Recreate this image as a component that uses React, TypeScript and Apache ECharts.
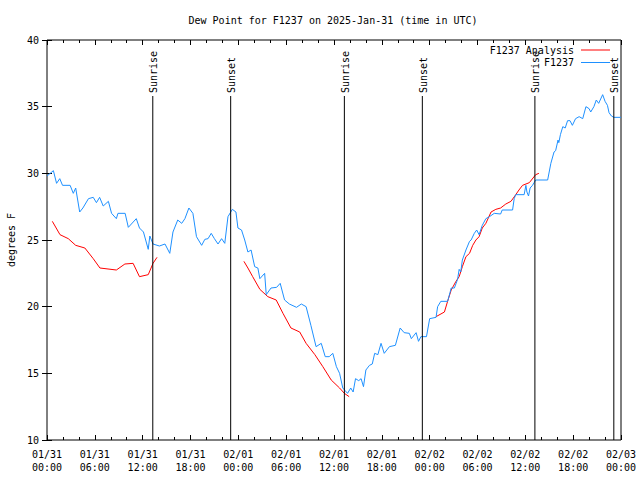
import React, { useEffect, useRef } from "react";
import * as echarts from "echarts";

// hours since 2025-01-31 00:00 UTC
const obsHours = [
  0, 0.8, 1.2, 1.6, 1.95, 2.9, 3.3, 3.6, 4.1, 4.5, 5.2, 5.8, 6.2, 6.6, 7.05, 7.7, 8.1, 8.7, 8.9, 9.8,
  10.2, 11.2, 11.6, 12.1, 12.7, 12.9, 13.3, 14.1, 14.8, 15.4, 15.8, 16.4, 16.9, 17.3, 17.8, 18.3, 18.75,
  19.4, 19.8, 20.2, 20.6, 21.0, 21.45, 21.9, 22.3, 22.7, 23.25, 23.7, 23.95, 24.4, 24.8, 25.2, 25.6,
  26.05, 26.45, 26.7, 27.3, 27.5, 28.1, 28.8, 29.25, 29.8, 30.4, 31.3, 31.9, 32.5, 33.1, 33.75, 34.4,
  34.9, 35.4, 35.85, 36.3, 36.7, 37.1, 37.4, 37.7, 38.1, 38.4, 38.7, 39.1, 39.4, 39.7, 40.0, 40.45,
  40.8, 41.1, 41.5, 41.9, 42.3, 42.95, 43.7, 44.3, 44.8, 45.45, 45.7, 46.3, 46.6, 46.9, 47.6, 48.0,
  48.8, 49.0, 49.4, 50.25, 50.55, 50.7, 51.1, 51.5, 51.7, 51.9, 52.1, 52.55, 53.0, 53.2, 53.6, 53.9,
  54.2, 54.6, 55.05, 55.5, 56.1, 56.9, 57.1, 58.4, 58.6, 58.8, 59.85, 60.07, 60.2, 60.4, 60.6, 60.9,
  61.1, 61.3, 62.8, 63.2, 63.6, 63.8, 64.1, 64.2, 64.4, 64.7, 65.0, 65.3, 65.6, 65.9, 66.3, 66.75,
  67.2, 67.6, 68.0, 68.2, 68.6, 68.9, 69.2, 69.7, 70.0, 70.3, 70.5, 70.8, 71.1, 72.0,
];
const obsDew = [
  29.8, 30.2, 29.25, 29.6, 29.1, 29.1, 28.5, 28.9, 27.1, 27.4, 28.1, 28.2, 27.8, 28.2, 27.55, 27.9, 27.0, 26.6, 27.0, 27.0,
  25.95, 26.6, 25.9, 25.6, 24.3, 25.3, 24.7, 24.55, 24.7, 24.0, 25.6, 26.5, 26.25, 26.6, 27.4, 27.0, 25.25,
  24.6, 25.05, 25.1, 25.5, 25.1, 24.7, 25.1, 24.75, 26.75, 27.3, 27.1, 25.9, 25.75, 25.0, 24.1, 24.25,
  23.0, 22.9, 22.1, 22.5, 20.9, 21.4, 21.45, 21.75, 20.5, 20.2, 19.95, 20.2, 20.0, 18.6, 17.0, 17.25,
  16.25, 16.25, 16.5, 15.5, 15.0, 13.9, 13.7, 13.5, 13.9, 13.6, 14.6, 14.45, 14.6, 14.0, 15.25, 15.6,
  15.7, 16.5, 16.4, 17.25, 16.5, 17.0, 17.1, 18.4, 18.05, 18.0, 17.6, 18.05, 17.4, 17.75, 17.75, 19.1,
  19.2, 20.0, 20.4, 20.4, 21.05, 21.4, 21.4, 22.05, 22.8, 22.6, 23.5, 24.25, 24.9, 25.0, 25.5, 25.75,
  25.4, 26.1, 26.6, 26.75, 27.0, 26.95, 27.25, 27.25, 28.1, 28.4, 28.4, 29.1, 28.6, 28.3, 28.9, 29.1,
  29.3, 29.5, 29.5, 30.75, 31.6, 31.7, 32.5, 32.3, 32.9, 33.5, 33.4, 33.95, 33.95, 33.6, 34.1, 34.25,
  34.1, 35.0, 34.85, 34.6, 35.0, 35.5, 35.25, 35.9, 35.4, 35.1, 34.55, 34.3, 34.2, 34.2,
];

// analysis segments
const anaHours1 = [0.67, 1.63, 2.67, 3.6, 4.75, 5.8, 6.64, 8.7, 9.77, 10.8, 11.6, 12.7, 13.3, 13.8];
const anaDew1 = [26.4, 25.4, 25.1, 24.6, 24.4, 23.6, 22.9, 22.75, 23.2, 23.25, 22.25, 22.4, 23.25, 23.7];
const anaHours2 = [24.7, 25.2, 25.8, 26.7, 27.7, 28.75, 29.6, 30.6, 31.7, 32.5, 33.6, 34.6, 35.65, 36.7, 37.3, 37.9];
const anaDew2 = [23.4, 22.9, 22.25, 21.3, 20.75, 20.5, 19.5, 18.4, 18.1, 17.25, 16.4, 15.5, 14.5, 13.9, 13.5, 13.25];
const anaHours3 = [48.8, 49.85, 50.25, 50.7, 51.3, 51.7, 52.1, 52.55, 53.0, 53.4, 53.8, 54.2, 54.6, 55.05, 55.7, 56.3, 56.9, 57.55, 58.2, 58.8, 59.2, 59.65, 60.5, 61.3, 61.7];
const anaDew3 = [19.25, 19.6, 20.4, 21.25, 21.9, 22.25, 23.0, 23.75, 24.0, 24.6, 25.0, 25.25, 25.9, 26.25, 27.1, 27.3, 27.4, 27.7, 27.9, 28.4, 28.75, 29.1, 29.3, 29.9, 30.0];

const sunTimes = [13.27, 23.04, 37.3, 47.08, 61.2, 71.1];
const sunLabels = ["Sunrise", "Sunset", "Sunrise", "Sunset", "Sunrise", "Sunset"];

const xTickLabels = [
  "01/31\n00:00", "01/31\n06:00", "01/31\n12:00", "01/31\n18:00",
  "02/01\n00:00", "02/01\n06:00", "02/01\n12:00", "02/01\n18:00",
  "02/02\n00:00", "02/02\n06:00", "02/02\n12:00", "02/02\n18:00",
  "02/03\n00:00",
];

const seriesNames = ["F1237 Analysis", "F1237"];
const seriesColors = ["#ff0000", "#1e90ff"];
const titleText = "Dew Point for F1237 on 2025-Jan-31 (time in UTC)";
const yName = "degrees F";

const FONT = "DejaVu Sans Mono";

export default function App() {
  const ref = useRef<HTMLDivElement>(null);
  useEffect(() => {
    if (!ref.current) return;
    const chart = echarts.init(ref.current, undefined, { renderer: "svg" });

    const obsData = obsHours.map((h, i) => [h, obsDew[i]]);
    const anaData: any[] = [];
    [[anaHours1, anaDew1], [anaHours2, anaDew2], [anaHours3, anaDew3]].forEach(([hs, vs], k) => {
      if (k > 0) anaData.push([hs[0] - 0.5, "-"]);
      hs.forEach((h, i) => anaData.push([h, vs[i]]));
    });

    const xAxisBase = {
      type: "value",
      min: 0,
      max: 72,
      interval: 6,
      splitLine: { show: false },
      axisLine: { show: false },
      axisTick: { show: true, inside: true, length: 5, lineStyle: { color: "#000" } },
      minorTick: { show: true, splitNumber: 3, length: 3, lineStyle: { color: "#000" } },
      minorSplitLine: { show: false },
    };
    const yAxisBase = {
      type: "value",
      min: 10,
      max: 40,
      interval: 5,
      splitLine: { show: false },
      axisLine: { show: false },
      axisTick: { show: true, inside: true, length: 5, lineStyle: { color: "#000" } },
    };

    const labelFont = { fontFamily: FONT, fontSize: 10, color: "#000" };

    chart.setOption({
      animation: false,
      backgroundColor: "#fff",
      grid: {
        left: 47,
        right: 19,
        top: 40,
        bottom: 40,
        containLabel: false,
        outerBoundsMode: "none",
        show: true,
        borderColor: "#000",
        borderWidth: 1,
        backgroundColor: "transparent",
      },
      xAxis: [
        {
          ...xAxisBase,
          position: "bottom",
          axisLabel: {
            ...labelFont,
            margin: 8,
            lineHeight: 13,
            formatter: (v: number) => xTickLabels[Math.round(v / 6)] ?? "",
          },
        },
        { ...xAxisBase, position: "top", axisLabel: { show: false } },
      ],
      yAxis: [
        {
          ...yAxisBase,
          position: "left",
          name: yName,
          nameLocation: "middle",
          nameGap: 31,
          nameTextStyle: { ...labelFont },
          axisLabel: { ...labelFont, margin: 8 },
        },
        { ...yAxisBase, position: "right", axisLabel: { show: false } },
      ],
      series: [
        {
          name: seriesNames[0],
          type: "line",
          data: anaData,
          showSymbol: false,
          connectNulls: false,
          lineStyle: { color: seriesColors[0], width: 1 },
          itemStyle: { color: seriesColors[0] },
          z: 3,
        },
        {
          name: seriesNames[1],
          type: "line",
          data: obsData,
          showSymbol: false,
          lineStyle: { color: seriesColors[1], width: 1 },
          itemStyle: { color: seriesColors[1] },
          z: 4,
        },
        {
          type: "custom",
          data: sunTimes.map((t) => [t, 10]),
          encode: { x: 0, y: 1 },
          z: 5,
          renderItem: (params: any, api: any) => {
            const t = api.value(0);
            const p0 = api.coord([t, 10]);
            const p1 = api.coord([t, 35.8]);
            return {
              type: "group",
              children: [
                {
                  type: "line",
                  shape: { x1: p0[0], y1: p0[1], x2: p1[0], y2: p1[1] },
                  style: { stroke: "#000", lineWidth: 1 },
                },
                {
                  type: "text",
                  x: p1[0] + 1,
                  y: p1[1] - 3,
                  rotation: Math.PI / 2,
                  style: {
                    text: sunLabels[params.dataIndex],
                    fill: "#000",
                    font: `10px "${FONT}"`,
                    textAlign: "left",
                    textVerticalAlign: "middle",
                  },
                },
              ],
            };
          },
        },
      ],
      graphic: [
        {
          type: "text",
          x: 333,
          y: 20,
          style: {
            text: titleText,
            fill: "#000",
            font: `10px "${FONT}"`,
            textAlign: "center",
            textVerticalAlign: "middle",
          },
        },
        ...seriesNames.flatMap((name, i) => [
          {
            type: "text",
            x: 574,
            y: 50 + i * 12.5,
            z: 10,
            style: {
              text: name,
              fill: "#000",
              font: `10px "${FONT}"`,
              textAlign: "right",
              textVerticalAlign: "middle",
            },
          },
          {
            type: "line",
            z: 10,
            shape: { x1: 581, y1: 50 + i * 12.5, x2: 610, y2: 50 + i * 12.5 },
            style: { stroke: seriesColors[i], lineWidth: 1 },
          },
        ]),
      ],
    });
    return () => chart.dispose();
  }, []);
  return (
    <div
      ref={ref}
      style={{ position: "fixed", left: 0, top: 0, width: 640, height: 480, background: "#fff" }}
    />
  );
}
